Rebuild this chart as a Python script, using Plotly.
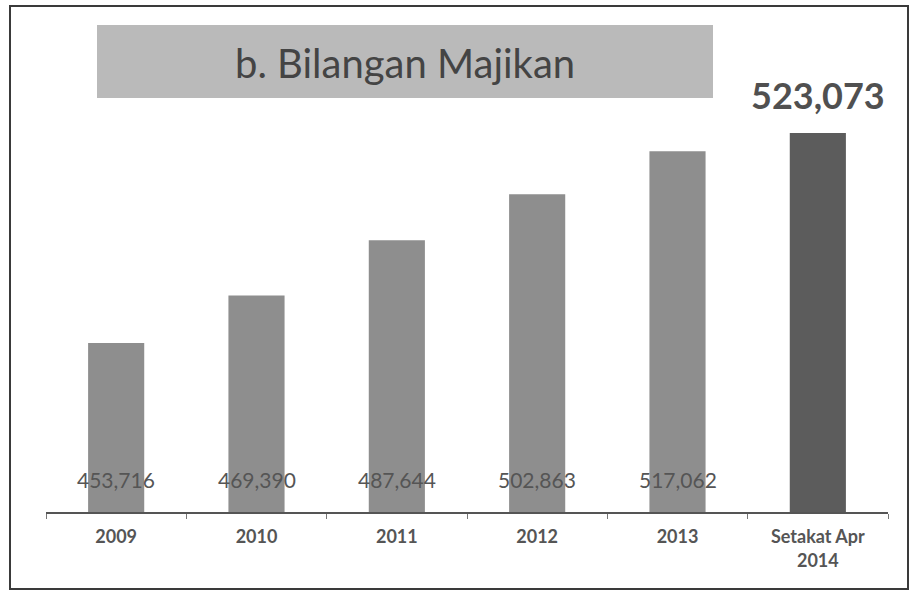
import plotly.graph_objects as go

# Number of employers (Bilangan Majikan) by year
categories = ["2009", "2010", "2011", "2012", "2013", "Setakat Apr<br>2014"]
employers = [453716, 469390, 487644, 502863, 517062, 523073]
bar_colors = ["#8e8e8e", "#8e8e8e", "#8e8e8e", "#8e8e8e", "#8e8e8e", "#5c5c5c"]

title_text = "b. Bilangan Majikan"

FONT = "Lato, 'Open Sans', sans-serif"
Y_MIN, Y_MAX = 397900, 533980

fig = go.Figure()
fig.add_trace(go.Bar(
    x=categories,
    y=employers,
    marker=dict(color=bar_colors, line=dict(width=0)),
    hoverinfo="x+y",
))

# Value labels near the foot of each earlier bar (x given as category index)
for i, val in enumerate(employers[:-1]):
    fig.add_annotation(
        x=i, y=Y_MIN, yanchor="bottom", yshift=18,
        text=f"{val:,}", showarrow=False,
        font=dict(family=FONT, size=21, color="#555555"),
    )

# Big label over the latest bar
last = len(employers) - 1
fig.add_annotation(
    x=last, y=employers[last],
    text=f"<b>{employers[last]:,}</b>",
    showarrow=False, yanchor="bottom", yshift=14,
    font=dict(family=FONT, size=36, color="#505050"),
)

# Title box
fig.add_shape(type="rect", xref="paper", yref="paper",
              x0=(97 - 46) / 842, x1=(713 - 46) / 842,
              y0=(512 - 98) / 412, y1=(512 - 25) / 412,
              fillcolor="#bababa", line=dict(width=0), layer="below")
fig.add_annotation(
    xref="paper", yref="paper",
    x=(405 - 46) / 842, y=(512 - 63) / 412,
    xanchor="center", yanchor="middle",
    text=title_text, showarrow=False,
    font=dict(family=FONT, size=40, color="#444444"),
)

# Outer frame
fig.add_shape(type="rect", xref="paper", yref="paper",
              x0=(10 - 46) / 842, x1=(908 - 46) / 842,
              y0=(512 - 589) / 412, y1=(512 - 6) / 412,
              line=dict(color="#3a3a3a", width=2), fillcolor="rgba(0,0,0,0)")

fig.update_layout(
    width=911, height=593,
    margin=dict(l=46, r=23, t=100, b=81),
    paper_bgcolor="white", plot_bgcolor="white",
    bargap=0.6,
    showlegend=False,
    xaxis=dict(
        type="category",
        range=[-0.5, len(categories) - 0.5],
        showline=True, linecolor="#555555", linewidth=1.5,
        ticks="outside", ticklen=5, tickcolor="#777777",
        tickson="boundaries", showgrid=False,
        ticklabelstandoff=8, tickangle=0,
        tickfont=dict(family=FONT, size=18, color="#555555", weight="bold"),
    ),
    yaxis=dict(range=[Y_MIN, Y_MAX], visible=False, showgrid=False),
)

fig.write_html("out.html")
